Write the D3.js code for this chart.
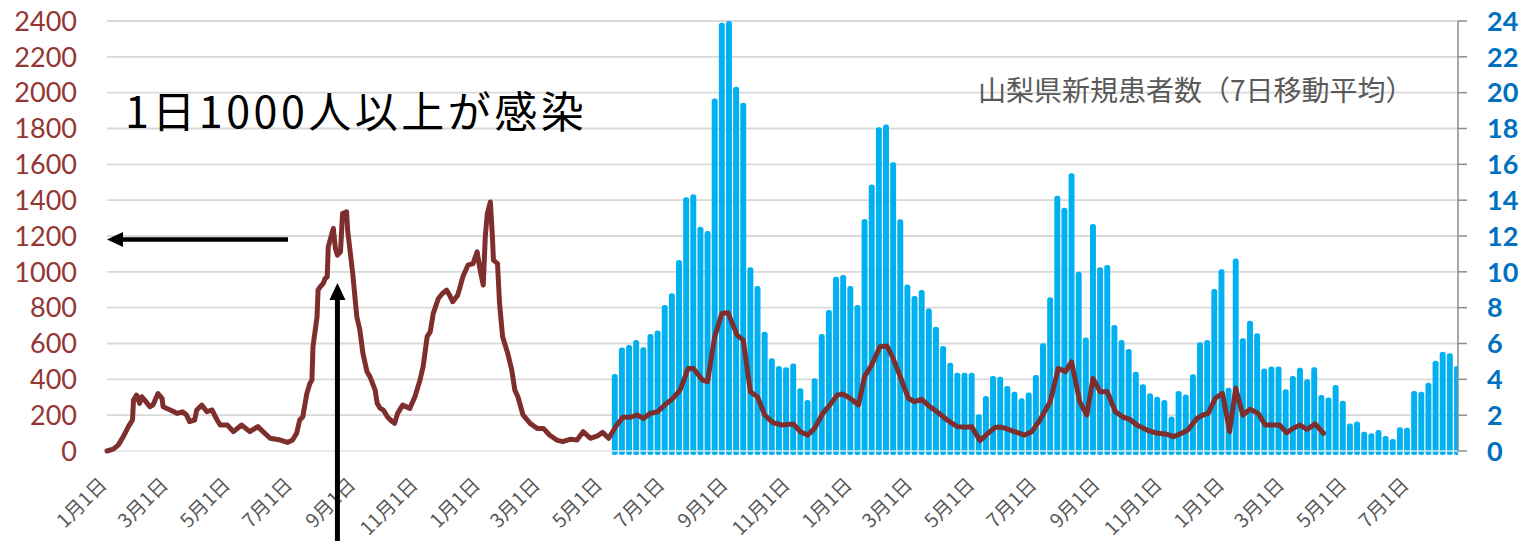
<!DOCTYPE html>
<html><head><meta charset="utf-8">
<script src="https://cdn.jsdelivr.net/npm/d3@7"></script>
<style>html,body{margin:0;padding:0;background:#fff;} svg{display:block}</style>
</head><body><svg id="c" width="1530" height="541"></svg>
<script>
// ---- data ----
const leftTicks = [0,200,400,600,800,1000,1200,1400,1600,1800,2000,2200,2400];
const rightTicks = [0,2,4,6,8,10,12,14,16,18,20,22,24];
const tickDates = ["2020-01-01","2020-03-01","2020-05-01","2020-07-01","2020-09-01","2020-11-01",
  "2021-01-01","2021-03-01","2021-05-01","2021-07-01","2021-09-01","2021-11-01",
  "2022-01-01","2022-03-01","2022-05-01","2022-07-01","2022-09-01","2022-11-01",
  "2023-01-01","2023-03-01","2023-05-01","2023-07-01"];
const domainStart = "2020-01-01";
const domainEnd = "2023-08-18";
// line series: day index (days since 2020-01-01) and value (left axis)
const lineDays = [0,6,11,16,21,25,26,29,32,34,37,42,45,50,54,55,62,69,74,78,81,86,88,93,98,103,108,111,118,124,132,140,148,153,160,170,177,182,186,189,192,196,199,201,202,206,207,209,212,214,216,217,221,222,224,226,229,231,235,236,241,245,248,251,255,258,263,265,268,271,275,278,282,285,290,297,302,307,310,314,317,320,325,329,333,336,339,344,349,354,359,363,366,369,371,373,376,378,379,383,385,388,393,397,400,403,408,415,422,428,434,441,447,454,461,467,474,481,486,492,
  500,506,513,520,526,533,540,547,555,562,570,575,584,589,596,603,609,618,624,631,638,645,653,662,673,680,687,694,702,709,716,722,729,737,743,750,758,765,771,778,786,792,799,805,814,824,834,842,848,856,864,871,878,886,895,900,907,915,925,933,940,946,954,961,967,974,981,989,996,1003,1010,1020,1030,1038,1046,1054,1060,1069,1075,1080,1087,1094,1101,1107,1114,1121,1129,1136,1143,1150,1157,1163,1170,1177,1185,1193];
const lineValues = [0,10,33,80,136,173,284,312,266,303,284,247,256,321,294,247,229,210,219,201,164,173,229,256,219,229,173,145,145,108,145,108,136,108,71,61,48,61,99,173,191,321,377,396,582,749,898,916,935,963,972,1139,1223,1242,1130,1093,1112,1325,1335,1232,991,749,675,545,442,414,340,266,238,229,191,173,154,210,256,238,303,396,470,638,665,768,851,879,898,870,833,870,972,1037,1046,1112,1009,926,1195,1325,1390,1195,1065,1046,823,638,545,452,340,303,201,154,126,126,89,61,52,65,61,108,71,84,104,71,
  145,188,188,201,182,210,219,257,294,340,461,461,396,387,638,768,772,647,619,331,303,201,158,145,151,108,89,126,210,257,312,318,294,257,415,480,582,586,517,415,294,275,288,257,219,173,136,132,136,58,98,132,132,117,98,89,108,173,275,461,443,498,275,201,405,331,331,219,191,177,145,117,99,95,80,99,117,182,201,210,294,322,108,350,201,233,210,145,145,145,102,126,145,121,151,99];
// weekly bars (right axis): 山梨県新規患者数（7日移動平均）
const barStart = "2021-05-13";
const barValues = [4.30,5.77,5.92,6.20,5.79,6.53,6.72,8.15,8.80,10.66,14.16,14.33,12.52,12.28,19.68,23.9,24.0,20.33,19.44,10.25,
  9.21,6.66,5.17,4.74,4.67,4.89,3.50,2.85,4.06,6.53,7.87,9.73,9.82,9.21,8.15,12.95,14.88,18.07,18.23,16.11,
  12.93,9.30,8.65,8.99,7.96,6.94,5.86,4.93,4.37,4.37,4.37,2.05,3.07,4.19,4.15,3.63,3.31,2.94,3.26,4.24,
  6.01,8.58,14.25,13.58,15.50,10.01,6.34,12.67,10.25,10.38,7.03,6.20,5.69,4.43,3.72,3.22,3.03,2.85,1.92,3.35,
  3.16,4.28,6.07,6.20,9.04,10.14,3.53,10.75,6.29,7.27,6.57,4.61,4.71,4.71,3.44,4.19,4.65,4.00,4.67,3.13,
  2.98,3.68,2.81,1.54,1.64,1.08,0.99,1.17,0.84,0.67,1.32,1.30,3.35,3.31,3.81,5.04,5.54,5.45,4.74];
const titleText = "1日1000人以上が感染";
const subtitleText = "山梨県新規患者数（7日移動平均）";
const arrowLevel = 1180;          // horizontal arrow points at this level
const arrowDate = "2020-08-14";   // vertical arrow date

// ---- drawing ----
const svg = d3.select("#c");
const W = 1530, H = 541;
const m = {left:107, right:1458, top:21, bottom:451};
const parse = d3.utcParse("%Y-%m-%d");
const x = d3.scaleUtc().domain([parse(domainStart), parse(domainEnd)]).range([m.left, m.right]);
const yL = d3.scaleLinear().domain([0,2400]).range([m.bottom, m.top]);
const yR = d3.scaleLinear().domain([0,24]).range([m.bottom, m.top]);
const t0 = parse(domainStart);

svg.append("defs").append("clipPath").attr("id","plot")
  .append("rect").attr("x",m.left).attr("y",0).attr("width",m.right-m.left).attr("height",m.bottom+6);

// gridlines
svg.append("g").selectAll("line").data(leftTicks.filter(d=>d>0)).join("line")
  .attr("x1",m.left).attr("x2",m.right).attr("y1",d=>yL(d)).attr("y2",d=>yL(d))
  .attr("stroke","#D9D9D9").attr("stroke-width",1.8);

// bars
const barData = barValues.map((v,i)=>({date:d3.utcDay.offset(parse(barStart), 7*i), v}));
const bw = x(d3.utcDay.offset(t0,7)) - x(t0) - 1.2;
svg.append("g").attr("clip-path","url(#plot)").selectAll("rect").data(barData).join("rect")
  .attr("x",d=>x(d.date)-bw/2).attr("width",bw)
  .attr("y",d=>yR(d.v)).attr("height",d=>yR(0)-yR(d.v)+4)
  .attr("rx",2.5).attr("fill","#00B0F0");

// zero line
svg.append("line").attr("x1",m.left).attr("x2",m.right).attr("y1",yL(0)).attr("y2",yL(0))
  .attr("stroke","#DDE6EA").attr("stroke-width",1.6);

// line
const lineData = lineDays.map((d,i)=>({date:d3.utcDay.offset(t0,d), v:lineValues[i]}));
svg.append("path").datum(lineData)
  .attr("d", d3.line().x(d=>x(d.date)).y(d=>yL(d.v)))
  .attr("fill","none").attr("stroke","#7E2F2D").attr("stroke-width",5)
  .attr("stroke-linejoin","round").attr("stroke-linecap","round");

// right axis line + ticks
svg.append("line").attr("x1",m.right).attr("x2",m.right).attr("y1",m.top).attr("y2",m.bottom)
  .attr("stroke","#8C8C8C").attr("stroke-width",1.5);
svg.append("g").selectAll("line").data(rightTicks).join("line")
  .attr("x1",m.right).attr("x2",m.right+9).attr("y1",d=>yR(d)).attr("y2",d=>yR(d))
  .attr("stroke","#8C8C8C").attr("stroke-width",1.5);

// left labels
svg.append("g").selectAll("text").data(leftTicks).join("text")
  .attr("x",77).attr("y",d=>yL(d)).attr("dy","0.36em").attr("text-anchor","end")
  .attr("font-family","Lato, 'Open Sans', sans-serif").attr("font-size",27).attr("fill","#943634")
  .text(d=>d);
// right labels
svg.append("g").selectAll("text").data(rightTicks).join("text")
  .attr("x",1487).attr("y",d=>yR(d)).attr("dy","0.36em").attr("text-anchor","start")
  .attr("font-family","Lato, 'Open Sans', sans-serif").attr("font-weight","bold").attr("font-size",27).attr("fill","#0070C0")
  .text(d=>d);
// x labels
const fmt = d => `${d.getUTCMonth()+1}月${d.getUTCDate()}日`;
svg.append("g").selectAll("text").data(tickDates.map(parse)).join("text")
  .attr("transform",d=>`translate(${x(d)+1},486) rotate(-45)`)
  .attr("text-anchor","end")
  .attr("font-family","'Noto Sans CJK JP', sans-serif").attr("font-size",19.5).attr("fill","#595959")
  .text(fmt);

// title & subtitle
svg.append("text").attr("x",125).attr("y",128)
  .attr("font-family","'Noto Sans CJK JP', sans-serif").attr("font-size",43).attr("letter-spacing",3.5).attr("fill","#000")
  .text(titleText);
svg.append("text").attr("x",978).attr("y",101)
  .attr("font-family","'Noto Sans CJK JP', sans-serif").attr("font-size",28).attr("fill","#595959")
  .text(subtitleText);

// arrows
const ay = yL(arrowLevel);
svg.append("line").attr("x1",288).attr("x2",118).attr("y1",ay).attr("y2",ay)
  .attr("stroke","#000").attr("stroke-width",4.5);
svg.append("path").attr("d",`M${m.left},${ay} L${m.left+16},${ay-7.5} L${m.left+16},${ay+7.5} Z`).attr("fill","#000");
const ax = x(parse(arrowDate));
svg.append("line").attr("x1",ax).attr("x2",ax).attr("y1",H).attr("y2",296)
  .attr("stroke","#000").attr("stroke-width",5);
svg.append("path").attr("d",`M${ax},283 L${ax-8},300 L${ax+8},300 Z`).attr("fill","#000");
</script></body></html>
